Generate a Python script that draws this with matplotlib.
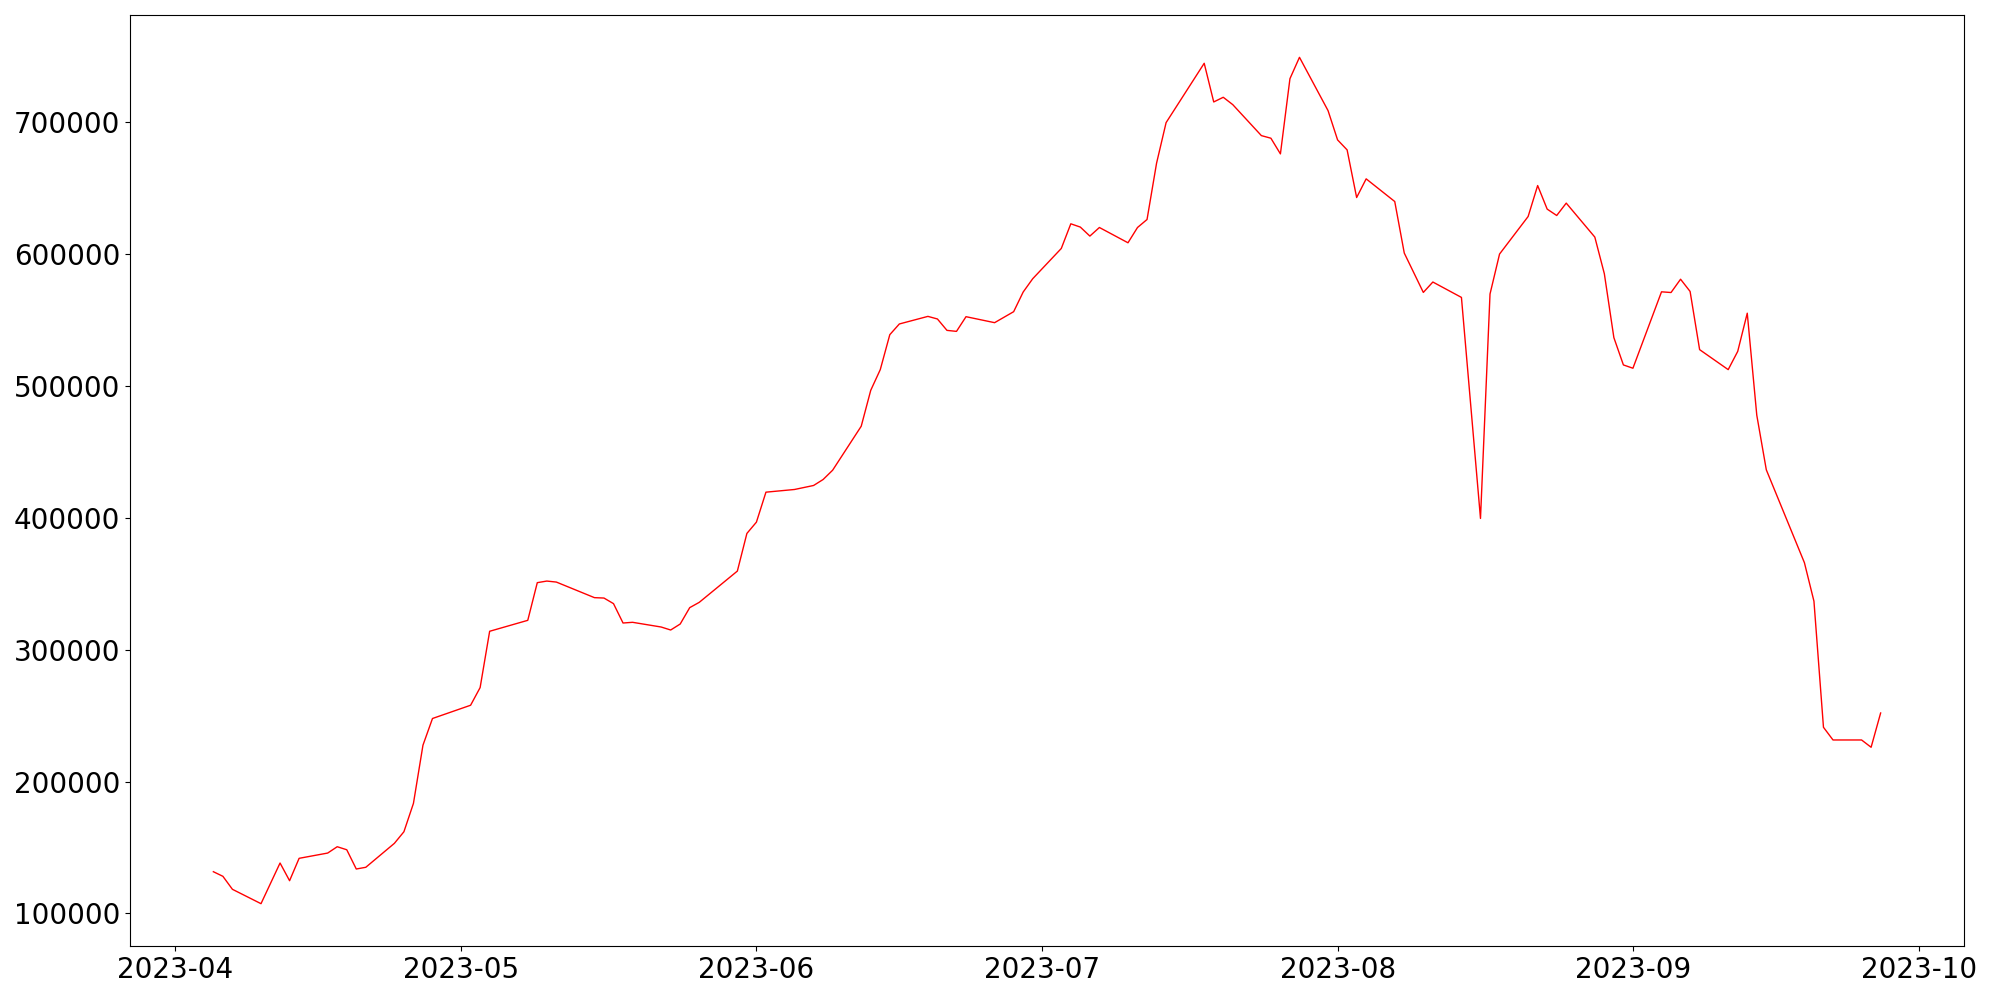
import numpy as np
import matplotlib
matplotlib.use("Agg")
import matplotlib.pyplot as plt

dates = [
    "2023-04-05", "2023-04-06", "2023-04-07", "2023-04-10", "2023-04-12", "2023-04-13", "2023-04-14",
    "2023-04-17", "2023-04-18", "2023-04-19", "2023-04-20", "2023-04-21",
    "2023-04-24", "2023-04-25", "2023-04-26", "2023-04-27", "2023-04-28",
    "2023-05-02", "2023-05-03", "2023-05-04", "2023-05-08", "2023-05-09", "2023-05-10", "2023-05-11",
    "2023-05-15", "2023-05-16", "2023-05-17", "2023-05-18", "2023-05-19",
    "2023-05-22", "2023-05-23", "2023-05-24", "2023-05-25", "2023-05-26",
    "2023-05-30", "2023-05-31", "2023-06-01", "2023-06-02",
    "2023-06-05", "2023-06-07", "2023-06-08", "2023-06-09",
    "2023-06-12", "2023-06-13", "2023-06-14", "2023-06-15", "2023-06-16",
    "2023-06-19", "2023-06-20", "2023-06-21", "2023-06-22", "2023-06-23",
    "2023-06-26", "2023-06-28", "2023-06-29", "2023-06-30",
    "2023-07-03", "2023-07-04", "2023-07-05", "2023-07-06", "2023-07-07",
    "2023-07-10", "2023-07-11", "2023-07-12", "2023-07-13", "2023-07-14",
    "2023-07-18", "2023-07-19", "2023-07-20", "2023-07-21",
    "2023-07-24", "2023-07-25", "2023-07-26", "2023-07-27", "2023-07-28",
    "2023-07-31", "2023-08-01", "2023-08-02", "2023-08-03", "2023-08-04",
    "2023-08-07", "2023-08-08", "2023-08-10", "2023-08-11",
    "2023-08-14", "2023-08-16", "2023-08-17", "2023-08-18",
    "2023-08-21", "2023-08-22", "2023-08-23", "2023-08-24", "2023-08-25",
    "2023-08-28", "2023-08-29", "2023-08-30", "2023-08-31", "2023-09-01",
    "2023-09-04", "2023-09-05", "2023-09-06", "2023-09-07", "2023-09-08",
    "2023-09-11", "2023-09-12", "2023-09-13", "2023-09-14", "2023-09-15",
    "2023-09-19", "2023-09-20", "2023-09-21", "2023-09-22",
    "2023-09-25", "2023-09-26", "2023-09-27",
]

values = [
    131650, 128160, 118300, 107400, 138240, 124830, 141800,
    145800, 150600, 148300, 133700, 135000,
    153160, 161950, 183460, 227600, 247850,
    257900, 271300, 314000, 322300, 350870, 352080, 351320,
    339500, 339200, 334960, 320265, 320800,
    317235, 314960, 319500, 331930, 335945,
    359655, 388200, 396770, 419500,
    421540, 424570, 429100, 436160,
    469500, 496760, 512440, 538950, 547060,
    552820, 550850, 542210, 541450, 552590,
    548050, 556380, 571300, 581375,
    604330, 623040, 620540, 613720, 620235,
    608645, 620235, 626300, 669000, 699770,
    744770, 715450, 719000, 713400,
    689925, 687950, 676060, 733100, 749300,
    708860, 686670, 679090, 642960, 657125,
    639930, 600840, 571000, 578880,
    567210, 399575, 569790, 600090,
    628570, 652050, 634170, 629330, 638720,
    612960, 585160, 536700, 516000, 513500,
    571450, 570920, 581000, 571750, 527600,
    512440, 526300, 555240, 477900, 436450,
    366000, 336800, 241180, 231560,
    231560, 226030, 252020,
]

x = np.array(dates, dtype="datetime64[D]")
y = np.array(values)

fig = plt.figure(figsize=(20, 10), dpi=100)
ax = fig.add_axes([0.065, 0.054, 0.917, 0.931])
ax.plot(x, y, color="red", linewidth=1.0)
ax.tick_params(axis="both", labelsize=20)

fig.savefig("out.png", dpi=100)
